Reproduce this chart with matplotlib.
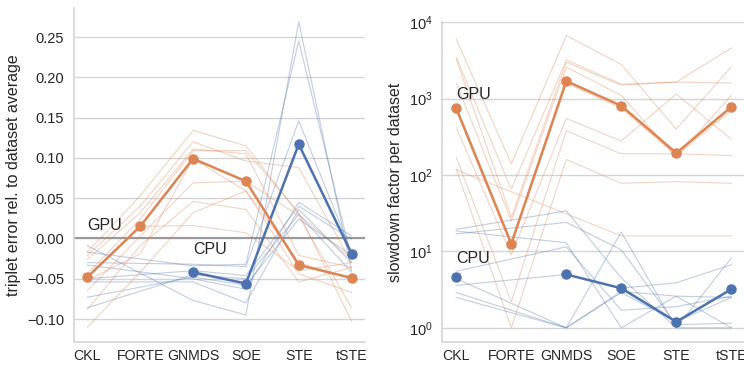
import numpy as np
import matplotlib
matplotlib.use('Agg')
import matplotlib.pyplot as plt

nan = np.nan

#Categories (methods) on the x axis
methods = ['CKL', 'FORTE', 'GNMDS', 'SOE', 'STE', 'tSTE']

#Left panel: triplet error relative to dataset average
err_cpu_mean = [nan, nan, -0.042, -0.056, 0.117, -0.019]
err_gpu_mean = [-0.048, 0.015, 0.099, 0.071, -0.033, -0.049]

err_cpu_datasets = [
    [-0.009, nan, -0.077, -0.095, 0.269, -0.040],
    [-0.017, nan, -0.034, -0.032, 0.245, -0.025],
    [-0.030, nan, -0.032, -0.035, 0.146, -0.017],
    [-0.033, nan, -0.050, -0.063, 0.045, 0.003],
    [-0.050, nan, -0.040, -0.046, 0.040, -0.001],
    [-0.054, nan, -0.054, -0.080, 0.036, -0.030],
    [-0.073, nan, -0.048, -0.058, 0.024, -0.021],
    [-0.086, nan, -0.045, -0.050, 0.030, -0.042],
]
err_gpu_datasets = [
    [-0.017, 0.053, 0.134, 0.115, 0.030, -0.026],
    [-0.021, 0.040, 0.120, 0.096, 0.088, -0.030],
    [-0.026, 0.032, 0.111, 0.105, -0.021, -0.036],
    [-0.044, 0.024, 0.109, 0.109, 0.032, -0.103],
    [-0.052, -0.019, 0.099, 0.059, -0.044, -0.067],
    [-0.065, 0.003, 0.069, 0.071, 0.028, -0.086],
    [-0.088, -0.009, 0.046, 0.036, -0.054, -0.036],
    [-0.110, -0.042, 0.032, 0.059, -0.030, -0.050],
    [-0.048, 0.015, 0.016, 0.007, -0.040, -0.030],
]

#Right panel: slowdown factor per dataset (log scale)
slow_cpu_mean = [4.7, nan, 5.0, 3.3, 1.2, 3.2]
slow_gpu_mean = [750, 12.6, 1700, 805, 194, 780]

slow_cpu_datasets = [
    [19.5, nan, 34, 4.5, 1.0, 1.0],
    [17, nan, 24, 10.5, 1.1, 1.15],
    [18.5, nan, 13, 1.0, 2.6, 1.0],
    [5.5, nan, 11.5, 1.7, 1.9, 2.6],
    [3.6, nan, 5.0, 3.3, 3.9, 6.7],
    [4.4, nan, 1.0, 18, 1.0, 8.2],
    [2.9, nan, 1.0, 2.9, 1.2, 2.5],
    [2.5, nan, 1.0, 3.0, 2.6, 2.5],
]
slow_gpu_datasets = [
    [6000, 140, 6700, 2800, 400, 2600],
    [3500, 65, 3200, 1550, 1650, 4600],
    [3300, 28, 3000, 1500, 1650, 1600],
    [1600, 25, 2600, 1100, 170, 1100],
    [420, 9, 550, 280, 1150, 295],
    [170, 2.2, 380, 190, 190, 180],
    [120, 1.0, 160, 78, 82, 78],
    [117, nan, nan, 16, 16, 16],
    [700, 12, 1600, 750, 180, 700],
]

blue = '#4C72B0'
orange = '#DD8452'

plt.rcParams['font.family'] = ['Liberation Sans', 'DejaVu Sans']
plt.rcParams['text.color'] = '#262626'
plt.rcParams['axes.labelcolor'] = '#262626'
plt.rcParams['xtick.color'] = '#262626'
plt.rcParams['ytick.color'] = '#262626'

fig = plt.figure(figsize=(7.44, 3.65), dpi=100)
ax1 = fig.add_axes([0.099, 0.062, 0.392, 0.916])
ax2 = fig.add_axes([0.5945, 0.064, 0.4069, 0.875])

x = np.arange(len(methods))


def draw_panel(ax, cpu_rows, gpu_rows, cpu_mean, gpu_mean):
    #thin lines, one per dataset; missing values are skipped
    for rows, col in [(cpu_rows, blue), (gpu_rows, orange)]:
        for r in rows:
            r = np.array(r, dtype=float)
            ok = ~np.isnan(r)
            ax.plot(x[ok], r[ok], color=col, lw=0.8, alpha=0.35, zorder=2)
    for m, col in [(cpu_mean, blue), (gpu_mean, orange)]:
        ax.plot(x, m, color=col, lw=1.8, marker='o', ms=6.5, zorder=4)
    ax.set_xticks(x)
    ax.set_xticklabels(methods)
    ax.grid(axis='y', color='#d5d5d5', lw=1)
    ax.grid(axis='x', visible=False)
    ax.set_axisbelow(True)
    for s in ['top', 'right']:
        ax.spines[s].set_visible(False)
    for s in ['left', 'bottom']:
        ax.spines[s].set_color('#d5d5d5')
        ax.spines[s].set_linewidth(1.2)
    ax.tick_params(length=0, labelsize=10.5)
    ax.tick_params(axis='x', pad=5, labelsize=10.2)
    ax.tick_params(axis='y', pad=7)
    ax.set_xlim(-0.26, 5.26)


draw_panel(ax1, err_cpu_datasets, err_gpu_datasets, err_cpu_mean, err_gpu_mean)
ax1.axhline(0, color='#999999', lw=1.5, zorder=1)
ax1.set_ylim(-0.129, 0.286)
ax1.set_yticks(np.arange(-0.10, 0.26, 0.05))
ax1.set_ylabel('triplet error rel. to dataset average', fontsize=11.5)
ax1.text(0, 0.0165, 'GPU', fontsize=11.5, ha='left', va='center')
ax1.text(2, -0.014, 'CPU', fontsize=11.5, ha='left', va='center')

draw_panel(ax2, slow_cpu_datasets, slow_gpu_datasets, slow_cpu_mean, slow_gpu_mean)
ax2.set_yscale('log')
ax2.set_ylim(0.66, 1e4)
ax2.minorticks_off()
ax2.set_xlim(-0.254, 5.25)
ax2.set_ylabel('slowdown factor per dataset', fontsize=11.5)
ax2.text(0, 1150, 'GPU', fontsize=11.5, ha='left', va='center')
ax2.text(0, 8.1, 'CPU', fontsize=11.5, ha='left', va='center')

fig.savefig('out.png', dpi=100)
